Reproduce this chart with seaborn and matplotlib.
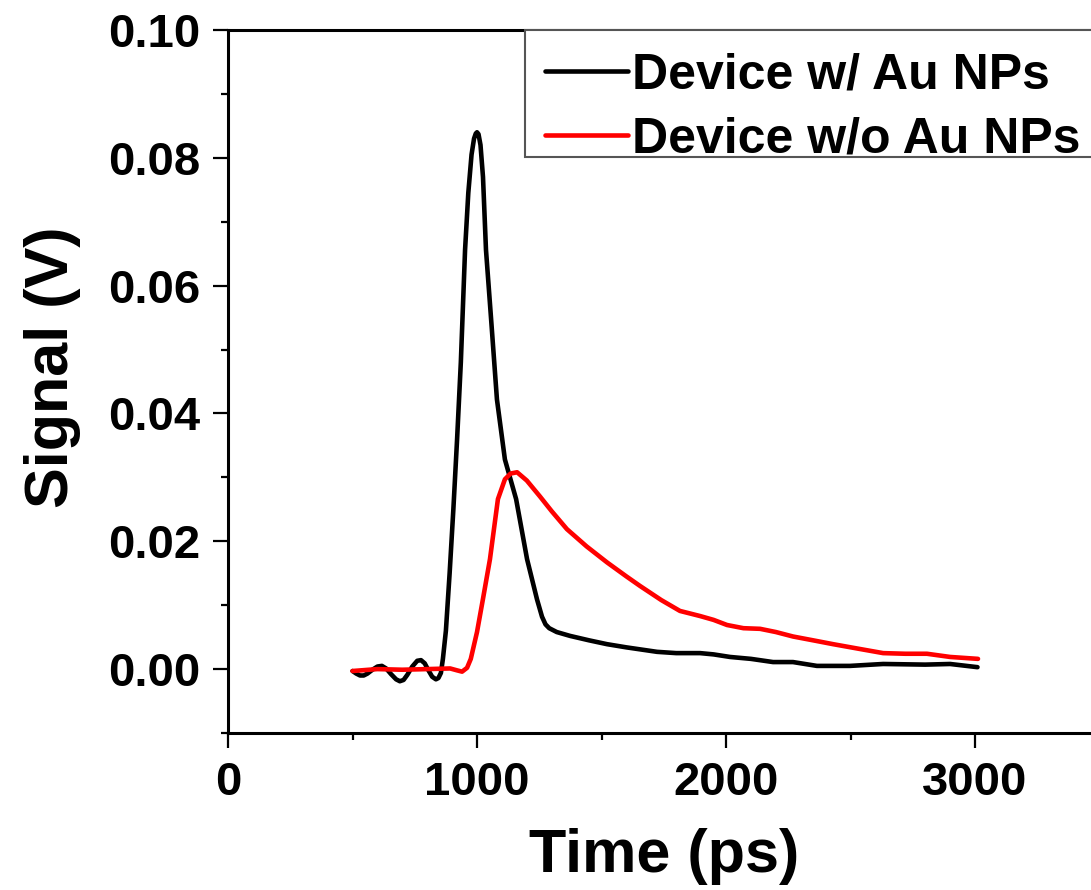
import matplotlib
matplotlib.use("Agg")
import matplotlib.pyplot as plt
from matplotlib.patches import Rectangle
from matplotlib.ticker import MultipleLocator, FormatStrFormatter
import pandas as pd
import seaborn as sns

# Transient photoresponse traces (time in ps, signal in V)
time_with_np = [500, 515, 530, 545, 560, 580, 600, 618, 635, 655, 675, 690, 705,
                720, 740, 760, 775, 790, 805, 820, 835, 845, 855, 863,
                875, 890, 905, 920, 935, 952, 965, 978, 988, 995, 1000, 1006,
                1014, 1024, 1036, 1058, 1080, 1112, 1157, 1201, 1241, 1261, 1275,
                1290, 1320, 1373, 1450, 1522, 1600, 1723, 1800, 1896, 1950, 2016,
                2100, 2189, 2269, 2365, 2498, 2631, 2800, 2900, 3010]
signal_with_np = [-0.0003, -0.0007, -0.0010, -0.0010, -0.0007, -0.0001, 0.0004,
                  0.0005, 0.0001, -0.0008, -0.0016, -0.0019, -0.0017, -0.0009,
                  0.0004, 0.0013, 0.0014, 0.0009, -0.0002, -0.0012, -0.0016,
                  -0.0014, -0.0006, 0.0016, 0.0060,
                  0.0150, 0.0250, 0.0360, 0.0480, 0.0656, 0.0745, 0.0805, 0.0830,
                  0.0838, 0.0840, 0.0837, 0.0820, 0.0770, 0.0656, 0.0540, 0.0422,
                  0.0328, 0.0266, 0.0172, 0.0109, 0.0082, 0.0070, 0.0064, 0.0058,
                  0.0052, 0.0045, 0.0039, 0.0034, 0.0027, 0.0025, 0.0025, 0.0023,
                  0.0019, 0.0016, 0.0011, 0.0011, 0.0005, 0.0005, 0.0008, 0.0007,
                  0.0008, 0.0003]

time_without_np = [500, 600, 700, 800, 892, 920, 940, 960, 975, 1000, 1024, 1052,
                   1084, 1112, 1135, 1161, 1200, 1253, 1300, 1361, 1440, 1522,
                   1600, 1655, 1740, 1815, 1896, 1950, 2004, 2070, 2137, 2200,
                   2269, 2350, 2430, 2530, 2631, 2720, 2807, 2900, 3012]
signal_without_np = [-0.0003, 0.0000, -0.0001, 0.0000, 0.0001, -0.0002, -0.0004,
                     0.0002, 0.0016, 0.0058, 0.0110, 0.0172, 0.0266, 0.0297,
                     0.0306, 0.0308, 0.0295, 0.0270, 0.0247, 0.0219, 0.0192,
                     0.0167, 0.0145, 0.0130, 0.0108, 0.0091, 0.0083, 0.0077,
                     0.0069, 0.0064, 0.0063, 0.0058, 0.0051, 0.0045, 0.0039,
                     0.0032, 0.0025, 0.0024, 0.0024, 0.0019, 0.0016]

series_labels = ["Device w/ Au NPs", "Device w/o Au NPs"]
series_colors = ["#000000", "#ff0000"]

df = pd.concat([
    pd.DataFrame({"Time": time_with_np, "Signal": signal_with_np,
                  "Device": series_labels[0]}),
    pd.DataFrame({"Time": time_without_np, "Signal": signal_without_np,
                  "Device": series_labels[1]}),
], ignore_index=True)

sns.set_theme(style="ticks")
plt.rcParams["font.family"] = ["Liberation Sans", "DejaVu Sans"]
plt.rcParams["font.weight"] = "bold"
plt.rcParams["axes.labelweight"] = "bold"
for key in ["text.color", "axes.labelcolor", "xtick.color", "ytick.color",
            "axes.edgecolor"]:
    plt.rcParams[key] = "black"

fig = plt.figure(figsize=(10.91, 8.90), dpi=100)
ax = fig.add_axes([0.209, 0.1764, 0.7988, 0.7899])

sns.lineplot(data=df, x="Time", y="Signal", hue="Device",
             palette=dict(zip(series_labels, series_colors)),
             estimator=None, sort=False, linewidth=3.3, ax=ax,
             solid_joinstyle="round", solid_capstyle="round")

ax.set_xlim(0, 3500)
ax.set_ylim(-0.01, 0.10)
ax.xaxis.set_major_locator(MultipleLocator(1000))
ax.xaxis.set_minor_locator(MultipleLocator(500))
ax.yaxis.set_major_locator(MultipleLocator(0.02))
ax.yaxis.set_minor_locator(MultipleLocator(0.01))
ax.yaxis.set_major_formatter(FormatStrFormatter("%.2f"))

for side in ["left", "bottom", "top", "right"]:
    ax.spines[side].set_linewidth(2.2)
    ax.spines[side].set_color("black")

ax.tick_params(which="major", direction="out", length=10.8, width=1.6,
               labelsize=34, pad=9, color="black", labelcolor="black")
ax.tick_params(which="minor", direction="out", length=5, width=1.6, color="black")
for lbl in ax.get_xticklabels() + ax.get_yticklabels():
    lbl.set_fontweight("bold")

ax.set_xlabel("Time (ps)", fontsize=44, fontweight="bold", labelpad=17)
ax.set_ylabel("Signal (V)", fontsize=44, fontweight="bold")
ax.yaxis.set_label_coords(-0.169, 0.52)

# Legend box drawn as a plain rectangle so its padding can be set freely
ax.add_patch(Rectangle((0.3408, 0.8193), 1.0, 0.1807, transform=ax.transAxes,
                       facecolor="white", edgecolor="#555555", linewidth=1.5,
                       zorder=4, clip_on=False))
leg = ax.legend(loc="upper left", bbox_to_anchor=(0.3637, 0.9673),
                borderaxespad=0, borderpad=0, frameon=False,
                handlelength=1.66, handletextpad=0.08, labelspacing=0.36,
                prop={"weight": "bold", "size": 36})
leg.set_zorder(5)
for line in leg.get_lines():
    line.set_linewidth(3.3)

fig.savefig("out.png", dpi=100)
